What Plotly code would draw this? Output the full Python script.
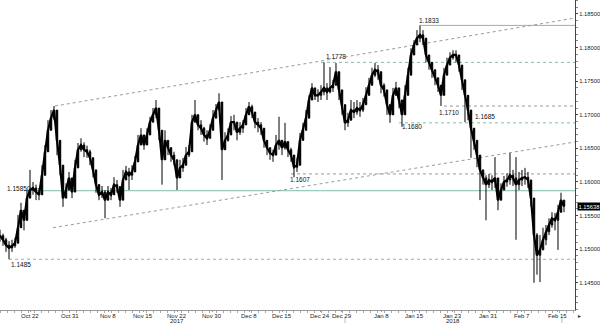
import plotly.graph_objects as go

# ---- data (price bars) ----
close = [
1.1520,1.1514,1.1506,1.1502,1.1505,1.1509,1.1532,1.1558,1.1543,1.1576,
1.1588,1.1591,1.1585,1.1581,1.1610,1.1645,1.1677,1.1695,1.1707,1.1662,
1.1625,1.1576,1.1588,1.1606,1.1585,1.1621,1.1648,1.1655,1.1648,1.1645,
1.1636,1.1618,1.1596,1.1581,1.1585,1.1573,1.1585,1.1581,1.1596,1.1593,
1.1573,1.1603,1.1615,1.1610,1.1615,1.1630,1.1655,1.1670,1.1655,1.1670,
1.1689,1.1700,1.1710,1.1677,1.1633,1.1662,1.1651,1.1640,1.1633,1.1606,
1.1621,1.1625,1.1640,1.1645,1.1689,1.1700,1.1685,1.1680,1.1670,1.1665,
1.1677,1.1695,1.1707,1.1719,1.1648,1.1662,1.1670,1.1689,1.1689,1.1674,
1.1680,1.1685,1.1700,1.1712,1.1704,1.1689,1.1685,1.1680,1.1662,1.1651,
1.1643,1.1640,1.1655,1.1662,1.1651,1.1660,1.1648,1.1640,1.1622,1.1625,
1.1662,1.1677,1.1695,1.1722,1.1740,1.1729,1.1729,1.1734,1.1740,1.1734,
1.1740,1.1744,1.1764,1.1737,1.1715,1.1688,1.1692,1.1707,1.1704,1.1710,
1.1707,1.1715,1.1729,1.1744,1.1759,1.1767,1.1764,1.1744,1.1737,1.1715,
1.1700,1.1729,1.1740,1.1722,1.1700,1.1729,1.1759,1.1789,1.1804,1.1814,
1.1819,1.1814,1.1789,1.1778,1.1767,1.1755,1.1744,1.1729,1.1759,1.1774,
1.1785,1.1789,1.1789,1.1774,1.1752,1.1729,1.1707,1.1680,1.1662,1.1640,
1.1618,1.1606,1.1596,1.1603,1.1600,1.1606,1.1573,1.1588,1.1600,1.1603,
1.1610,1.1606,1.1596,1.1603,1.1606,1.1607,1.1603,1.1576,1.1521,1.1491,
1.1499,1.1514,1.1526,1.1536,1.1546,1.1543,1.1555,1.1573,1.1564,
]
high = [
1.1529,1.1523,1.1517,1.1512,1.1514,1.1517,1.1551,1.1569,1.1555,1.1588,
1.1618,1.1600,1.1596,1.1591,1.1625,1.1655,1.1692,1.1707,1.1713,1.1685,
1.1648,1.1588,1.1598,1.1615,1.1594,1.1633,1.1658,1.1665,1.1659,1.1654,
1.1648,1.1633,1.1610,1.1591,1.1594,1.1588,1.1594,1.1591,1.1607,1.1603,
1.1588,1.1618,1.1624,1.1621,1.1625,1.1639,1.1670,1.1680,1.1665,1.1680,
1.1697,1.1710,1.1722,1.1692,1.1662,1.1677,1.1662,1.1648,1.1645,1.1633,
1.1633,1.1636,1.1652,1.1655,1.1700,1.1722,1.1695,1.1692,1.1682,1.1677,
1.1686,1.1707,1.1716,1.1732,1.1685,1.1674,1.1680,1.1698,1.1700,1.1688,
1.1689,1.1692,1.1710,1.1719,1.1715,1.1698,1.1695,1.1689,1.1670,1.1660,
1.1651,1.1648,1.1670,1.1697,1.1660,1.1688,1.1658,1.1651,1.1633,1.1636,
1.1673,1.1688,1.1707,1.1729,1.1747,1.1740,1.1738,1.1744,1.1778,1.1747,
1.1771,1.1752,1.1777,1.1752,1.1729,1.1697,1.1703,1.1722,1.1719,1.1722,
1.1719,1.1725,1.1741,1.1755,1.1770,1.1777,1.1774,1.1752,1.1747,1.1725,
1.1715,1.1740,1.1749,1.1737,1.1710,1.1744,1.1770,1.1799,1.1811,1.1826,
1.1833,1.1826,1.1799,1.1789,1.1774,1.1767,1.1755,1.1740,1.1770,1.1785,
1.1793,1.1796,1.1796,1.1785,1.1767,1.1744,1.1722,1.1692,1.1673,1.1655,
1.1633,1.1618,1.1610,1.1612,1.1610,1.1637,1.1584,1.1598,1.1609,1.1613,
1.1643,1.1618,1.1637,1.1615,1.1618,1.1621,1.1615,1.1588,1.1551,1.1524,
1.1521,1.1532,1.1536,1.1546,1.1555,1.1554,1.1566,1.1584,1.1573,
]
low = [
1.1511,1.1505,1.1496,1.1485,1.1496,1.1502,1.1518,1.1546,1.1528,1.1566,
1.1578,1.1581,1.1573,1.1573,1.1596,1.1636,1.1665,1.1685,1.1692,1.1640,
1.1610,1.1563,1.1578,1.1588,1.1576,1.1610,1.1636,1.1645,1.1637,1.1636,
1.1625,1.1607,1.1584,1.1573,1.1576,1.1546,1.1576,1.1573,1.1588,1.1584,
1.1563,1.1591,1.1606,1.1588,1.1603,1.1621,1.1645,1.1660,1.1648,1.1662,
1.1677,1.1689,1.1695,1.1662,1.1596,1.1652,1.1640,1.1630,1.1625,1.1588,
1.1613,1.1615,1.1633,1.1637,1.1680,1.1689,1.1677,1.1670,1.1660,1.1655,
1.1665,1.1685,1.1695,1.1707,1.1603,1.1655,1.1660,1.1680,1.1677,1.1662,
1.1670,1.1673,1.1692,1.1703,1.1695,1.1680,1.1674,1.1670,1.1651,1.1640,
1.1633,1.1630,1.1645,1.1648,1.1640,1.1648,1.1637,1.1630,1.1607,1.1615,
1.1652,1.1665,1.1688,1.1707,1.1727,1.1722,1.1719,1.1722,1.1729,1.1722,
1.1732,1.1734,1.1744,1.1722,1.1700,1.1677,1.1682,1.1697,1.1695,1.1700,
1.1697,1.1704,1.1719,1.1737,1.1749,1.1756,1.1752,1.1732,1.1727,1.1700,
1.1688,1.1719,1.1729,1.1710,1.1682,1.1719,1.1747,1.1778,1.1793,1.1804,
1.1808,1.1804,1.1778,1.1767,1.1755,1.1744,1.1734,1.1713,1.1744,1.1764,
1.1774,1.1782,1.1778,1.1764,1.1737,1.1689,1.1692,1.1636,1.1648,1.1622,
1.1573,1.1596,1.1543,1.1591,1.1588,1.1591,1.1558,1.1578,1.1588,1.1593,
1.1596,1.1594,1.1514,1.1588,1.1594,1.1596,1.1591,1.1563,1.1450,1.1462,
1.1451,1.1499,1.1506,1.1521,1.1532,1.1528,1.1499,1.1558,1.1555,
]
tick_pos = [10, 23.33, 36, 47.67, 59, 70.67, 83, 94, 106.67, 114, 127.33, 138.33, 151, 162.67, 174, 186]
tick_labels = ["Oct 22", "Oct 31", "Nov 8", "Nov 15", "Nov 22", "Nov 30", "Dec 8", "Dec 15",
               "Dec 24", "Dec 29", "Jan 8", "Jan 15", "Jan 23", "Jan 31", "Feb 7", "Feb 15"]
year_pos = [59, 151]
year_labels = ["2017", "2018"]

# horizontal levels: (price, start index, style)
level_price = [1.1833, 1.1778, 1.1713, 1.1688, 1.1612, 1.1587, 1.1485]
level_start = [140, 107, 148, 133, 97, 8, 3]
level_style = ["solid_teal", "dash_teal", "dash_gray", "dash_teal", "dash_gray", "solid_teal", "dash_teal"]

# level labels: (text, left index, price of text centre)
label_text = ["1.1833", "1.1778", "1.1710", "1.1685", "1.1680", "1.1607", "1.15850", "1.1485"]
label_x = [139, 108, 145.7, 157.7, 133.3, 96, 1.7, 3]
label_y = [1.1841, 1.1786, 1.1704, 1.1697, 1.1682, 1.1604, 1.1591, 1.1477]

# channel lines: (x0, y0, x1, y1)
channel_upper = (18.3, 1.1713, 191.67, 1.1844)
channel_lower = (17.7, 1.1532, 191.67, 1.16595)

last_price = "1.15638"

idx = list(range(len(close)))
opens = [close[0]] + close[:-1]

FONT = "Liberation Sans, Arial, sans-serif"
TEAL = "#7fbfae"
GRAY = "#9a9a9a"

fig = go.Figure()
fig.add_trace(go.Scatter(x=idx, y=close, mode="lines", line=dict(color="black", width=2.2),
                         showlegend=False, hoverinfo="skip"))
fig.add_trace(go.Candlestick(
    x=idx, open=opens, high=high, low=low, close=close,
    increasing=dict(line=dict(color="black", width=1), fillcolor="black"),
    decreasing=dict(line=dict(color="black", width=1), fillcolor="black"),
    whiskerwidth=0, showlegend=False, hoverinfo="skip"))

shapes = []
for p, s, st in zip(level_price, level_start, level_style):
    color = TEAL if "teal" in st else GRAY
    dash = "solid" if st.startswith("solid") else "3px,3px"
    shapes.append(dict(type="line", xref="x", yref="y", x0=s, x1=191.67, y0=p, y1=p,
                       line=dict(color=color, width=1, dash=dash), layer="below"))
for c in (channel_upper, channel_lower):
    shapes.append(dict(type="line", xref="x", yref="y", x0=c[0], y0=c[1], x1=c[2], y1=c[3],
                       line=dict(color=GRAY, width=1, dash="3px,3px"), layer="below"))
for xv in (115, 187.3):
    shapes.append(dict(type="line", xref="x", yref="paper", x0=xv, x1=xv, y0=-0.026, y1=-0.045,
                       line=dict(color="#bbbbbb", width=1)))

annotations = []
for t, xv, yv in zip(label_text, label_x, label_y):
    annotations.append(dict(text=t, x=xv, y=yv, xref="x", yref="y", xanchor="left", yanchor="middle",
                            showarrow=False, font=dict(family=FONT, size=6.5, color="#111")))
for t, xv in zip(tick_labels, tick_pos):
    annotations.append(dict(text=t, x=xv, y=0, xref="x", yref="paper", xanchor="center", yanchor="top",
                            yshift=-0.5, showarrow=False, font=dict(family=FONT, size=6, color="#222")))
for t, xv in zip(year_labels, year_pos):
    annotations.append(dict(text=t, x=xv, y=0, xref="x", yref="paper", xanchor="center", yanchor="top",
                            yshift=-6, showarrow=False, font=dict(family=FONT, size=6, color="#222")))
annotations.append(dict(text=last_price, x=1, y=close[-1], xref="paper", yref="y", xanchor="left",
                        yanchor="middle", xshift=1.5, showarrow=False, bgcolor="black", borderpad=0.5,
                        font=dict(family=FONT, size=5.8, color="white")))
annotations.append(dict(text="▸", x=1, y=0, xref="paper", yref="paper", xanchor="left", yanchor="top",
                        xshift=1, yshift=-1, showarrow=False, font=dict(family=FONT, size=6, color="#333")))

fig.update_layout(
    width=600, height=323, margin=dict(l=0, r=25, t=0, b=13, autoexpand=False),
    paper_bgcolor="white", plot_bgcolor="white",
    shapes=shapes, annotations=annotations, showlegend=False,
    xaxis=dict(range=[0, 191.67], rangeslider=dict(visible=False), showgrid=False, zeroline=False,
               automargin=False, tickangle=0, showticklabels=False,
               tickmode="array", tickvals=tick_pos,
               showline=True, linecolor="#999", linewidth=1, ticks="outside", ticklen=1,
               tickcolor="#999",
               minor=dict(ticks="outside", ticklen=2, dtick=2.333, tickcolor="#aaa")),
    yaxis=dict(side="right", range=[1.14095, 1.18708], showgrid=False, zeroline=False,
               automargin=False,
               tick0=1.145, dtick=0.005, tickformat=".5f", ticks="outside", ticklen=2,
               tickcolor="#444", showline=True, linecolor="#444", linewidth=1,
               tickfont=dict(family=FONT, size=5.8, color="#222"),
               minor=dict(ticks="outside", ticklen=1.5, dtick=0.001, tickcolor="#888")),
)
fig.write_html("out.html")
